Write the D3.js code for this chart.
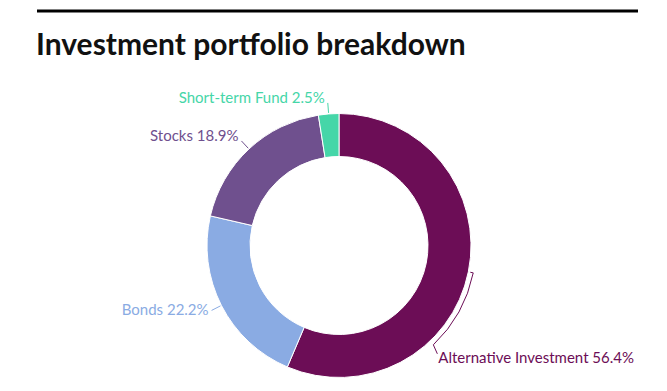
<!DOCTYPE html>
<html>
<head>
<meta charset="utf-8">
<script src="https://cdn.jsdelivr.net/npm/d3@7"></script>
<style>
  body { margin: 0; background: #fff; }
  text { font-family: Lato, "Open Sans", sans-serif; }
</style>
</head>
<body>
<div id="chart"></div>
<script>
const categories = ['Alternative Investment', 'Bonds', 'Stocks', 'Short-term Fund'];
const shares = [56.4, 22.2, 18.9, 2.5];
const colors = ['#6c0d56', '#8aabe3', '#6f508e', '#45d6a8'];

const width = 667, height = 391;
const cx = 339, cy = 245.5;
const outerR = 132, innerR = 89;

const svg = d3.select('#chart').append('svg')
  .attr('width', width)
  .attr('height', height);

// top rule
svg.append('line')
  .attr('x1', 37).attr('x2', 638)
  .attr('y1', 11).attr('y2', 11)
  .attr('stroke', '#000')
  .attr('stroke-width', 3);

// title
svg.append('text')
  .attr('x', 36)
  .attr('y', 55)
  .attr('font-size', '30px')
  .attr('font-weight', 'bold')
  .attr('fill', '#111')
  .text('Investment portfolio breakdown');

const data = categories.map((c, i) => ({ name: c, value: shares[i], color: colors[i] }));

const pie = d3.pie().sort(null).value(d => d.value);
const arcs = pie(data);

const arc = d3.arc().innerRadius(innerR).outerRadius(outerR);

const g = svg.append('g')
  .attr('transform', 'translate(' + cx + ', ' + cy + ')');

g.selectAll('path.slice')
  .data(arcs)
  .enter()
  .append('path')
  .attr('class', 'slice')
  .attr('d', arc)
  .attr('fill', d => d.data.color)
  .attr('stroke', '#fff')
  .attr('stroke-width', 1);

function pt(angle, r) {
  return [r * Math.sin(angle), -r * Math.cos(angle)];
}

arcs.forEach(function(d, i) {
  const mid = (d.startAngle + d.endAngle) / 2;
  const label = d.data.name + ' ' + d.data.value + '%';

  if (i === 0) {
    // bracket connector that follows the arc
    const r = 137;
    const endAngle = mid + 0.61;
    const a = pt(mid, 134), b = pt(mid, r);
    const c = pt(endAngle, r);
    const e = [c[0] + 4, c[1] + 9];
    g.append('path')
      .attr('d', 'M' + a + 'L' + b + 'A' + r + ',' + r + ' 0 0,1 ' + c + 'L' + e)
      .attr('fill', 'none')
      .attr('stroke', d.data.color)
      .attr('stroke-width', 1);
    g.append('text')
      .attr('x', e[0] + 1)
      .attr('y', e[1] + 9)
      .attr('font-size', '15px')
      .attr('fill', d.data.color)
      .text(label);
    return;
  }

  const p1 = pt(mid, 133), p2 = pt(mid, 143);
  g.append('path')
    .attr('d', 'M' + p1 + 'L' + p2)
    .attr('fill', 'none')
    .attr('stroke', d.data.color)
    .attr('stroke-width', 1);

  const lower = Math.cos(mid) < 0;
  g.append('text')
    .attr('x', p2[0] - 3)
    .attr('y', p2[1] + (lower ? 5 : 0))
    .attr('text-anchor', 'end')
    .attr('font-size', '15px')
    .attr('fill', d.data.color)
    .text(label);
});
</script>
</body>
</html>
